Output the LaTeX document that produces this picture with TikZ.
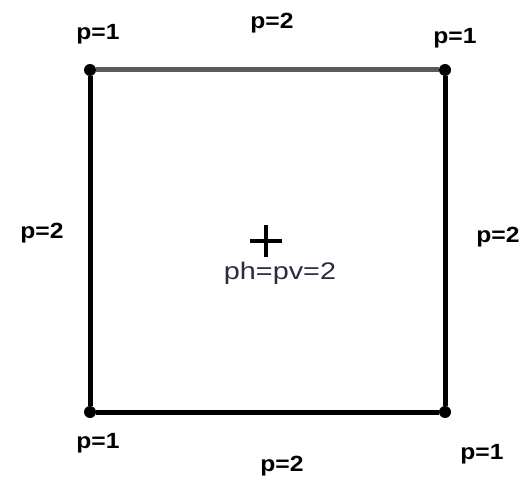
\documentclass[tikz,border=0pt]{standalone}
\usepackage{fontspec}
\setmainfont{Liberation Sans}
\usepackage{tikz}
\usetikzlibrary{positioning}
\definecolor{edgegray}{HTML}{5A5A5A}
\definecolor{centertext}{HTML}{2A2A40}
\tikzset{
  corner/.style={circle,fill=black,inner sep=0pt,minimum size=12pt},
  plabel/.style={font=\fontsize{22}{22}\selectfont\bfseries,xscale=1.12,inner sep=0pt},
  side/.style={line width=5pt}
}
\begin{document}
\begin{tikzpicture}[x=1pt,y=-1pt]
  \useasboundingbox (0,0) rectangle (527,481);
  % corners of the element
  \node[corner] (tl) at (90,70) {};
  \node[corner] (tr) at (445,70) {};
  \node[corner] (bl) at (90,412) {};
  \node[corner] (br) at (445,412) {};
  \draw[side,draw=edgegray] (tl) -- (tr);
  \draw[side] (tr) -- (br);
  \draw[side] (br) -- (bl);
  \draw[side] (bl) -- (tl);
  % vertex and edge orders
  \node[plabel] (ptl) at (98,34) {p=1};
  \node[plabel] (ptop) at (272,23) {p=2};
  \node[plabel] (ptr) at (455,38) {p=1};
  \node[plabel] (pleft) at (42,233) {p=2};
  \node[plabel] (pright) at (498,237) {p=2};
  \node[plabel] (pbl) at (98,443) {p=1};
  \node[plabel] (pbot) at (282,466) {p=2};
  \node[plabel] (pbr) at (482,454) {p=1};
  % interior: centre mark and orders
  \coordinate (mid) at (266,241);
  \draw[line width=3.6pt] ([xshift=-16pt]mid) -- ([xshift=16pt]mid);
  \draw[line width=3.6pt] ([yshift=-16pt]mid) -- ([yshift=16pt]mid);
  \node[font=\fontsize{24}{24}\selectfont,text=centertext,xscale=1.2,inner sep=0pt] (inner) at (280,273) {ph=pv=2};
\end{tikzpicture}
\end{document}
